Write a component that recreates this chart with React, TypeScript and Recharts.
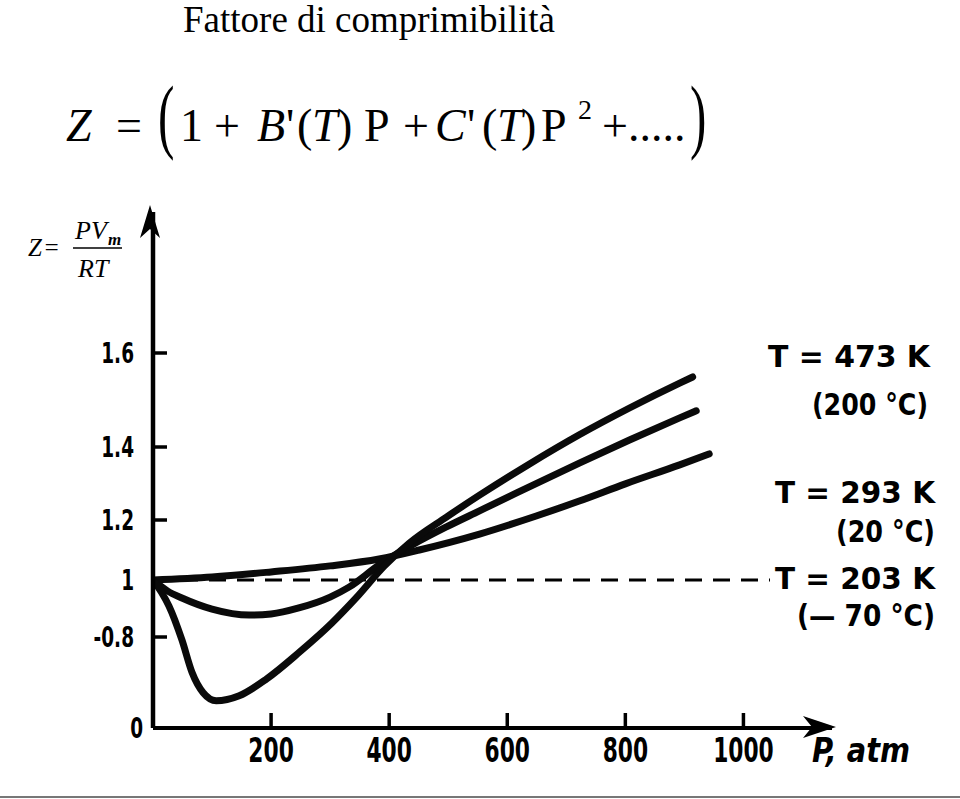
import { LineChart, Line, XAxis, YAxis, ReferenceLine } from "recharts";

const p473 = [0, 100, 200, 300, 383, 451, 553, 649, 722, 800, 892, 942];
const z473 = [1.0, 1.01, 1.027, 1.047, 1.07, 1.1, 1.153, 1.211, 1.252, 1.299, 1.351, 1.381];

const p293 = [0, 25, 49, 100, 163, 200, 247, 300, 332, 383, 439, 497, 553, 608, 722, 807, 892, 920];
const z293 = [1.0, 0.961, 0.937, 0.898, 0.877, 0.881, 0.902, 0.94, 0.975, 1.05, 1.117, 1.177, 1.225, 1.268, 1.356, 1.415, 1.462, 1.477];

const p203 = [0, 14, 27, 49, 66, 85, 107, 146, 192, 247, 303, 344, 392, 434, 497, 553, 637, 722, 807, 892, 914];
const z203 = [1.0, 0.958, 0.909, 0.774, 0.49, 0.31, 0.24, 0.284, 0.43, 0.662, 0.849, 0.937, 1.047, 1.123, 1.208, 1.268, 1.353, 1.426, 1.483, 1.536, 1.549];

const xTicks = [200, 400, 600, 800, 1000];
const yTicks = [0, 0.8, 1, 1.2, 1.4, 1.6];
const yTickLabels = ["0", "-0.8", "1", "1.2", "1.4", "1.6"];

const tempLabels = ["T = 473  K", "T = 293  K", "T = 203  K"];
const celsiusLabels = ["(200 °C)", "(20 °C)", "(— 70 °C)"];

// the printed axis is not linear: spacing of the Z stops along the axis
const zStops = [0, 0.8, 1, 1.2, 1.4, 1.6, 1.9];
const zStopHeights = [0, 91, 148, 208, 281, 375, 516];

const SANS = "'Liberation Sans Narrow', 'Arial Narrow', 'DejaVu Sans', sans-serif";
const SERIF = "'Liberation Serif', 'Times New Roman', serif";

const toRows = (ps: number[], zs: number[]) => ps.map((p, i) => ({ p, z: zs[i] }));
const rows473 = toRows(p473, z473);
const rows293 = toRows(p293, z293);
const rows203 = toRows(p203, z203);

function interp(v: number, from: number[], to: number[]) {
  let i = 0;
  while (i < from.length - 2 && v > from[i + 1]) i++;
  const t = (v - from[i]) / (from[i + 1] - from[i]);
  return to[i] + t * (to[i + 1] - to[i]);
}

// d3-like scale object so recharts can use the printed (piecewise) axis
function printedScale(): any {
  let dom = [0, 1];
  let rng = [0, 1];
  const s: any = (v: number) => {
    const a = interp(dom[0], zStops, zStopHeights);
    const b = interp(dom[1], zStops, zStopHeights);
    const h = interp(Number(v), zStops, zStopHeights);
    return rng[0] + ((h - a) / (b - a)) * (rng[1] - rng[0]);
  };
  s.domain = (d?: any[]) => {
    if (d === undefined) return dom.slice();
    dom = d.map(Number);
    return s;
  };
  s.range = (r?: any[]) => {
    if (r === undefined) return rng.slice();
    rng = r.map(Number);
    return s;
  };
  s.copy = () => printedScale().domain(dom).range(rng);
  s.invert = (px: number) => {
    const a = interp(dom[0], zStops, zStopHeights);
    const b = interp(dom[1], zStops, zStopHeights);
    const h = a + ((px - rng[0]) / (rng[1] - rng[0])) * (b - a);
    return interp(h, zStopHeights, zStops);
  };
  s.ticks = () => yTicks.slice();
  s.tickFormat = () => (v: number) => String(v);
  s.nice = () => s;
  s.clamp = () => s;
  return s;
}

const yScale = printedScale();

// bold condensed lettering of the scanned figure
function Narrow({ x, y, size, anchor, children }: any) {
  return (
    <text
      transform={`translate(${x},${y}) scale(0.66,1)`}
      textAnchor={anchor}
      fontFamily={SANS}
      fontWeight={700}
      fontSize={size}
      fill="#000"
    >
      {children}
    </text>
  );
}

function XTick({ x, y, payload }: any) {
  return (
    <g>
      <line x1={x} x2={x} y1={y} y2={y - 15} stroke="#000" strokeWidth={3.5} />
      <Narrow x={x} y={y + 34} size={33} anchor="middle">{payload.value}</Narrow>
    </g>
  );
}

function YTick({ x, y, payload }: any) {
  const v = payload.value;
  const label = yTickLabels[yTicks.indexOf(v)];
  const mark = v !== 0 && v !== 1;
  return (
    <g>
      {mark && <line x1={x} x2={x + 14} y1={y} y2={y} stroke="#000" strokeWidth={3.5} />}
      <Narrow x={v === 0 ? x - 10 : x - 19} y={y + 10} size={28} anchor="end">{label}</Narrow>
    </g>
  );
}

export default function App() {
  const curve = { type: "monotone" as const, stroke: "#0a0a0a", strokeWidth: 7, dot: false, isAnimationActive: false, strokeLinecap: "round" as const };
  return (
    <div style={{ position: "absolute", left: 0, top: 0, width: 960, height: 799, background: "#fff", overflow: "hidden" }}>
      <LineChart width={960} height={799} margin={{ top: 212, right: 128, bottom: 21, left: 0 }} style={{ position: "absolute", left: 0, top: 0 }}>
        <XAxis
          type="number"
          dataKey="p"
          domain={[0, 1150]}
          allowDataOverflow
          ticks={xTicks}
          height={50}
          axisLine={{ stroke: "#000", strokeWidth: 4 }}
          tickLine={false}
          tickSize={0}
          tickMargin={0}
          tick={<XTick />}
        />
        <YAxis
          type="number"
          dataKey="z"
          domain={[0, 1.9]}
          allowDataOverflow
          scale={yScale}
          ticks={yTicks}
          width={153}
          axisLine={{ stroke: "#000", strokeWidth: 4.5 }}
          tickLine={false}
          tickSize={0}
          tickMargin={0}
          tick={<YTick />}
        />
        <ReferenceLine
          segment={[{ x: 0, y: 1 }, { x: 1045, y: 1 }]}
          stroke="#000"
          strokeWidth={3}
          strokeDasharray="17 11"
          ifOverflow="visible"
        />
        <Line data={rows473} dataKey="z" {...curve} />
        <Line data={rows293} dataKey="z" {...curve} />
        <Line data={rows203} dataKey="z" {...curve} />
      </LineChart>

      <svg width={960} height={799} style={{ position: "absolute", left: 0, top: 0, pointerEvents: "none" }}>
        <text x={183} y={32} fontFamily={SERIF} fontSize={37} fill="#000">Fattore di comprimibilità</text>

        {/* virial expansion */}
        <g fontFamily={SERIF} fontSize={46} fill="#000">
          <text x={66} y={141} fontStyle="italic">Z</text>
          <text x={116} y={141}>=</text>
          <text transform="translate(158,143) scale(0.6,1)" fontSize={82}>(</text>
          <text x={180} y={141}>1</text>
          <text x={214} y={141}>+</text>
          <text x={257} y={141} fontStyle="italic">B</text>
          <text x={286} y={141}>'</text>
          <text x={297} y={141}>(</text>
          <text x={312} y={141} fontStyle="italic">T</text>
          <text x={337} y={141}>)</text>
          <text x={364} y={141}>P</text>
          <text x={403} y={141}>+</text>
          <text x={435} y={141} fontStyle="italic">C</text>
          <text x={467} y={141}>'</text>
          <text x={482} y={141}>(</text>
          <text x={497} y={141} fontStyle="italic">T</text>
          <text x={521} y={141}>)</text>
          <text x={541} y={141}>P</text>
          <text x={578} y={119} fontSize={28}>2</text>
          <text x={602} y={141}>+</text>
          <text x={628} y={141}>.....</text>
          <text transform="translate(690,143) scale(0.6,1)" fontSize={82}>)</text>
        </g>

        {/* Z = PVm / RT */}
        <g fontFamily={SERIF} fill="#000" fontStyle="italic">
          <text x={28} y={256} fontSize={25} letterSpacing={1}>Z=</text>
          <text x={75} y={239} fontSize={26}>PV</text>
          <text x={108} y={245} fontSize={17} fontWeight={700}>m</text>
          <line x1={73} x2={122} y1={248} y2={248} stroke="#000" strokeWidth={1.6} />
          <text x={78} y={277} fontSize={26}>RT</text>
        </g>

        {/* axis arrowheads */}
        <polygon points="150,205 160,238 150,229 140,238" fill="#000" />
        <polygon points="836,727 803,716 812,727 803,738" fill="#000" />

        <text x={812} y={762} fontFamily={SANS} fontWeight={700} fontStyle="italic" fontSize={33} textLength={98} lengthAdjust="spacingAndGlyphs">P, atm</text>

        <g fontFamily={SANS} fontWeight={700} fontSize={30} fill="#000">
          <text x={768} y={367} textLength={162} lengthAdjust="spacingAndGlyphs">{tempLabels[0]}</text>
          <text x={812} y={415} textLength={116} lengthAdjust="spacingAndGlyphs">{celsiusLabels[0]}</text>
          <text x={775} y={503} textLength={160} lengthAdjust="spacingAndGlyphs">{tempLabels[1]}</text>
          <text x={836} y={542} textLength={99} lengthAdjust="spacingAndGlyphs">{celsiusLabels[1]}</text>
          <text x={775} y={589} textLength={160} lengthAdjust="spacingAndGlyphs">{tempLabels[2]}</text>
          <text x={797} y={626} textLength={138} lengthAdjust="spacingAndGlyphs">{celsiusLabels[2]}</text>
        </g>

        <line x1={0} x2={960} y1={797} y2={797} stroke="#777" strokeWidth={2} />
      </svg>
    </div>
  );
}
